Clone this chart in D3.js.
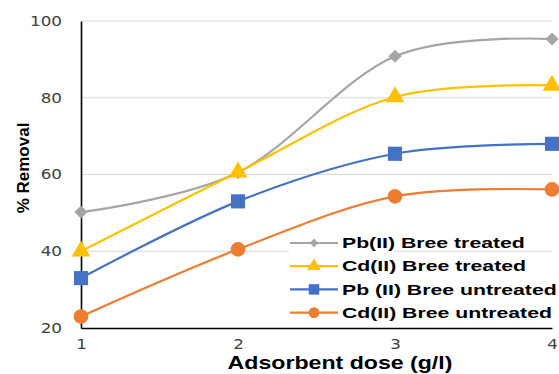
<!DOCTYPE html>
<html>
<head>
<meta charset="utf-8">
<script src="https://cdn.jsdelivr.net/npm/d3@7"></script>
<style>
  body { margin: 0; background: #fff; }
  text { font-family: "Liberation Sans", Arial, sans-serif; }
</style>
</head>
<body>
<svg id="chart" width="559" height="374"></svg>
<script>
const doses = [1, 2, 3, 4];
const yTicks = [20, 40, 60, 80, 100];

const pbTreated = [50.2, 60.5, 90.8, 95.3];
const cdTreated = [40, 60.6, 80.2, 83.2];
const pbUntreated = [33, 53, 65.4, 68];
const cdUntreated = [23, 40.5, 54.3, 56.1];

const series = [
  {name: 'Pb(II) Bree treated', values: pbTreated, color: '#a5a5a5', marker: 'diamond'},
  {name: 'Cd(II) Bree treated', values: cdTreated, color: '#ffc000', marker: 'triangle'},
  {name: 'Pb (II) Bree untreated', values: pbUntreated, color: '#4472c4', marker: 'square'},
  {name: 'Cd(II) Bree untreated', values: cdUntreated, color: '#ed7d31', marker: 'circle'}
];

const margin = {top: 21, right: 7, bottom: 46, left: 81};
const width = 559 - margin.left - margin.right;
const height = 374 - margin.top - margin.bottom;

const x = d3.scaleLinear().domain([1, 4]).range([0, width]);
const y = d3.scaleLinear().domain([20, 100]).range([height, 0]);

const svg = d3.select('#chart');
const chart = svg.append('g')
    .attr('transform', `translate(${ margin.left },${ margin.top })`);

// gridlines
chart.append('g')
    .selectAll('line')
    .data(yTicks.slice(1))
  .enter().append('line')
    .attr('x1', 0)
    .attr('x2', width)
    .attr('y1', (d) => y(d))
    .attr('y2', (d) => y(d))
    .attr('stroke', '#d9d9d9')
    .attr('stroke-width', 1.2);

const tickStretch = 1.2;

const yAxis = chart.append('g')
    .call(d3.axisLeft(y).tickValues(yTicks).tickSize(0));
yAxis.select('.domain').attr('stroke', '#000').attr('stroke-width', 1.6);
yAxis.selectAll('text')
    .attr('x', 0)
    .attr('transform', `translate(-19,0) scale(${ tickStretch },1)`)
    .attr('font-size', 14).attr('fill', '#404040')
    .style('font-family', '"DejaVu Sans", sans-serif');

const xAxis = chart.append('g')
    .attr('transform', `translate(0,${ height })`)
    .call(d3.axisBottom(x).tickValues(doses).tickFormat(d3.format('d')).tickSize(0).tickPadding(11));
xAxis.select('.domain').attr('stroke', '#000').attr('stroke-width', 1.6);
xAxis.selectAll('text')
    .attr('transform', `scale(${ tickStretch },1)`)
    .attr('font-size', 14).attr('fill', '#404040')
    .style('font-family', '"DejaVu Sans", sans-serif');

const line = d3.line()
    .x((d, i) => x(doses[i]))
    .y((d) => y(d))
    .curve(d3.curveCatmullRom.alpha(0));

const symbolTypes = {
  diamond: d3.symbolDiamond2, triangle: d3.symbolTriangle,
  square: d3.symbolSquare, circle: d3.symbolCircle
};
const symbolSizes = {diamond: 110, triangle: 150, square: 200, circle: 170};

series.forEach((s) => {
  chart.append('path')
      .datum(s.values)
      .attr('d', line)
      .attr('fill', 'none')
      .attr('stroke', s.color)
      .attr('stroke-width', 2.2);
});

series.forEach((s) => {
  chart.append('g')
      .selectAll('path')
      .data(s.values)
    .enter().append('path')
      .attr('transform', (d, i) => `translate(${ x(doses[i]) },${ y(d) })`)
      .attr('d', d3.symbol().type(symbolTypes[s.marker]).size(symbolSizes[s.marker])())
      .attr('fill', s.color);
});

// legend (box is narrower than its text, as in the original)
svg.append('rect')
    .attr('x', 289)
    .attr('y', 233)
    .attr('width', 106)
    .attr('height', 90)
    .attr('fill', '#fff');

const legend = svg.append('g')
    .attr('transform', 'translate(290,243)');

const item = legend.selectAll('g')
    .data(series)
  .enter().append('g')
    .attr('transform', (d, i) => `translate(0,${ i * 23.2 })`);

item.append('line')
    .attr('x1', 0)
    .attr('x2', 48)
    .attr('stroke', (d) => d.color)
    .attr('stroke-width', 2.2);

item.append('path')
    .attr('transform', 'translate(24,0)')
    .attr('d', (d) => d3.symbol().type(symbolTypes[d.marker])
        .size({diamond: 45, triangle: 80, square: 110, circle: 90}[d.marker])())
    .attr('fill', (d) => d.color);

const legendText = item.append('text')
    .attr('dy', '0.36em')
    .attr('font-size', 14.5)
    .attr('font-weight', 'bold')
    .attr('fill', '#000')
    .text((d) => d.name);
const legendStretch = 183 / legendText.node().getComputedTextLength();
legendText.attr('transform', `translate(52,0) scale(${ legendStretch },1)`);

// axis titles
svg.append('text')
    .attr('transform', 'translate(29,168) rotate(-90)')
    .attr('text-anchor', 'middle')
    .attr('font-size', 17)
    .attr('font-weight', 'bold')
    .text('% Removal');

const xTitle = svg.append('text')
    .attr('text-anchor', 'middle')
    .attr('font-size', 18)
    .attr('font-weight', 'bold')
    .text('Adsorbent dose (g/l)');
const titleStretch = 225 / xTitle.node().getComputedTextLength();
xTitle.attr('transform', `translate(340,369) scale(${ titleStretch },1)`);
</script>
</body>
</html>
